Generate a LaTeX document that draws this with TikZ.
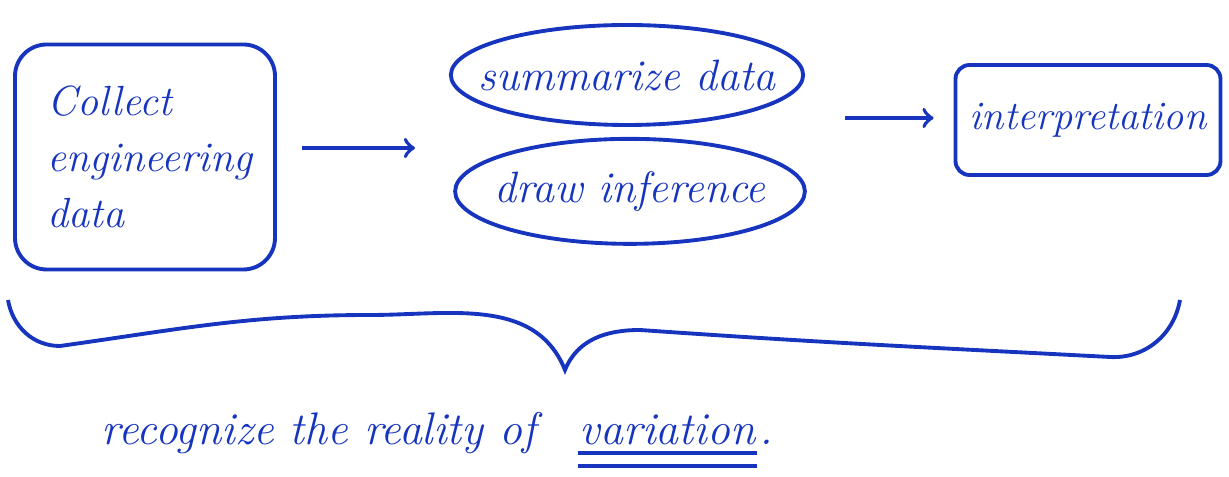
\documentclass[tikz,border=0pt]{standalone}
\usepackage{tikz}
\usetikzlibrary{shapes,positioning,arrows}
\definecolor{ink}{RGB}{22,52,190}
\tikzset {
stufe/.style={shape=rectangle,draw=ink,line width=1.1pt,rounded corners=9pt,font=\fontsize{12}{15}\selectfont\itshape,text=ink},
aktion/.style={shape=ellipse,draw=ink,line width=1.1pt,inner ysep=0pt,font=\fontsize{12.5}{15}\selectfont\itshape,text=ink},
notiz/.style={font=\fontsize{13}{16}\selectfont\itshape,text=ink,inner sep=0pt}
}
\begin{document}
\begin{tikzpicture}
[>=to,line width=1.1pt,color=ink]
\useasboundingbox (0,0) rectangle (12.29,-4.77);
\node[stufe,minimum width=2.6cm,minimum height=2.25cm,align=left,text width=1.95cm] (collect) at (1.45,-1.57) {Collect\\[1pt] engineering\\[1pt] data};
\node[aktion,inner xsep=-0.24cm,minimum height=1.0cm] (summarize) at (6.27,-0.75) {summarize data};
\node[aktion,inner xsep=-0.12cm,minimum height=1.05cm] (inference) [below=0.1cm of summarize,xshift=0.03cm] {draw inference};
\node[stufe,rounded corners=4pt,minimum width=2.65cm,minimum height=1.1cm,font=\fontsize{11.5}{14}\selectfont\itshape] (interpretation) at (10.88,-1.2) {interpretation};
\coordinate (fork) at (4.57,-1.48);
\coordinate (join) at (8.0,-1.18);
\draw[->,shorten <=0.25cm,shorten >=0.42cm] (collect.east |- fork) to (fork);
\draw[->,shorten <=0.45cm,shorten >=0.2cm] (join) to (interpretation.west |- join);
\draw (0.08,-3.0) to[out=-80,in=180] (0.6,-3.46) to[out=8,in=180] (3.7,-3.15) to[out=0,in=112] (5.65,-3.70) to[out=68,in=180] (6.4,-3.30) to[out=-4,in=177] (11.1,-3.57) to[out=-3,in=-100] (11.8,-3.0);
\node[notiz,anchor=base west] (reality) at (1.0,-4.45) {recognize the reality of};
\node[notiz,anchor=base west] (variation) at (5.78,-4.45) {variation};
\node[notiz,anchor=base west] (dot) at (variation.base east) {.};
\draw ([yshift=-0.06cm]variation.south west) -- ([yshift=-0.06cm]variation.south east);
\draw ([yshift=-0.19cm]variation.south west) -- ([yshift=-0.19cm]variation.south east);
\end{tikzpicture}
\end{document}
